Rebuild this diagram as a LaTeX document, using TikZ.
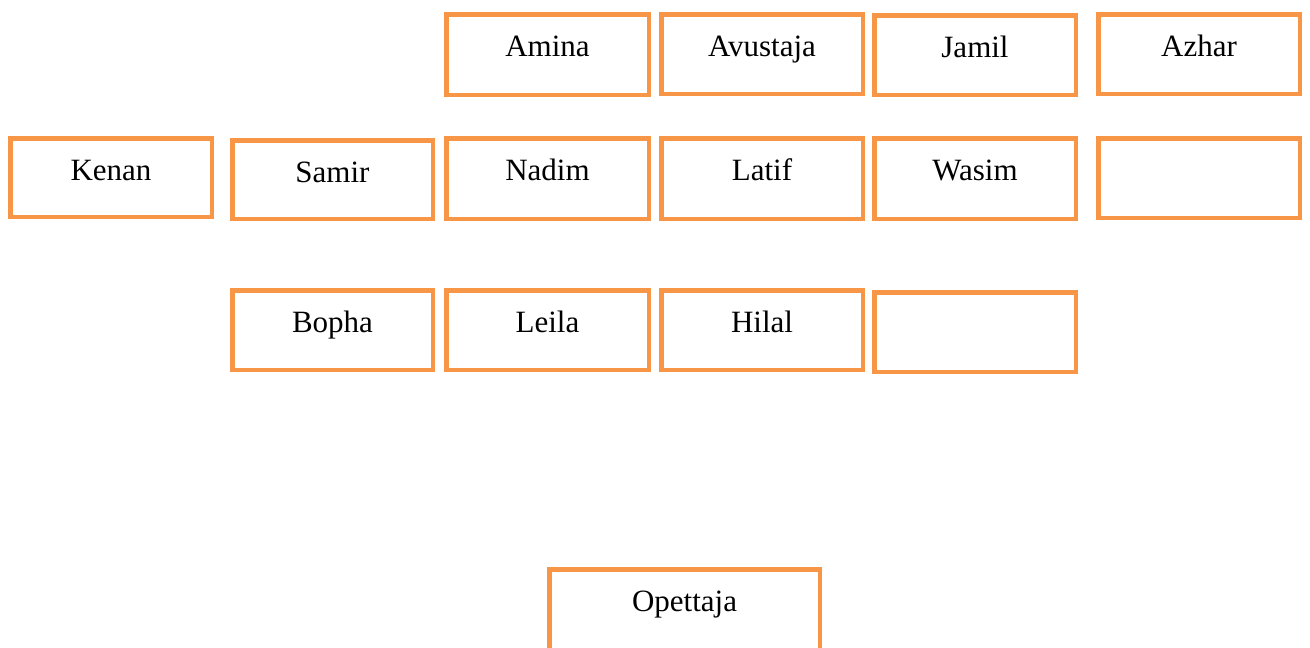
\documentclass[tikz,border=0pt]{standalone}
\usepackage{fontspec}
\setmainfont{Liberation Serif}
\definecolor{boxorange}{HTML}{F79646}
\tikzset{
  box/.style={draw=boxorange, line width=4.5pt, rectangle, inner sep=0pt, outer sep=0pt},
  lbl/.style={font=\fontsize{31}{37}\selectfont, anchor=base, inner sep=0pt, text=black}
}
\newcommand\orgbox[6]{%
  \node[box, minimum width={(#3-#2-4.5)*1pt}, minimum height={(#5-#4-4.5)*1pt}]
    (#1) at ({(#2+#3)/2},{(#4+#5)/2}) {};
  \node[lbl] (#1-t) at ([yshift=-41.75pt]#1.north) {#6};
}
\begin{document}
\begin{tikzpicture}[x=1pt,y=-1pt]
\useasboundingbox (0,0) rectangle (1310,648);
\clip (0,0) rectangle (1310,648);
% row 1
\orgbox{amina}{444}{651}{12}{97}{Amina}
\orgbox{avustaja}{659}{865}{12}{96}{Avustaja}
\orgbox{jamil}{872}{1078}{13}{97}{Jamil}
\orgbox{azhar}{1096}{1302}{12}{96}{Azhar}
% row 2
\orgbox{kenan}{8}{214}{136}{219}{Kenan}
\orgbox{samir}{230}{435}{138}{221}{Samir}
\orgbox{nadim}{444}{651}{136}{221}{Nadim}
\orgbox{latif}{659}{865}{136}{221}{Latif}
\orgbox{wasim}{872}{1078}{136}{221}{Wasim}
\orgbox{emptyA}{1096}{1302}{136}{220}{}
% row 3
\orgbox{bopha}{230}{435}{288}{372}{Bopha}
\orgbox{leila}{444}{651}{288}{372}{Leila}
\orgbox{hilal}{659}{865}{288}{372}{Hilal}
\orgbox{emptyB}{872}{1078}{290}{374}{}
% teacher
\orgbox{opettaja}{547}{822}{567}{652}{Opettaja}
\end{tikzpicture}
\end{document}
